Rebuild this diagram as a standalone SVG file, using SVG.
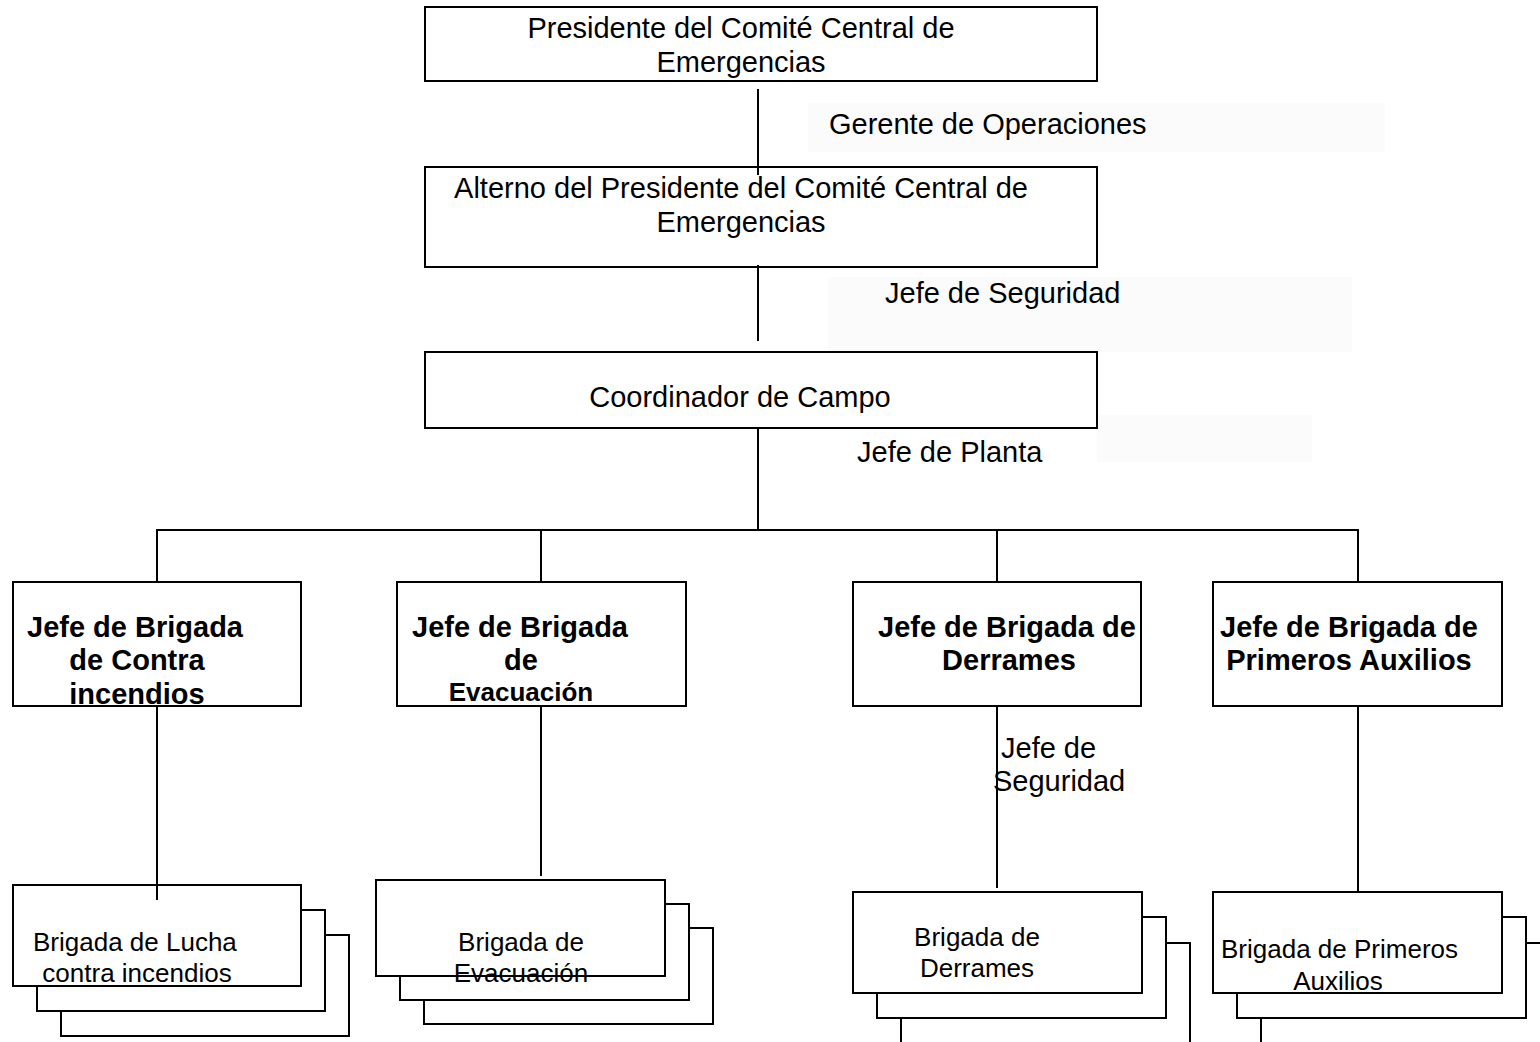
<svg xmlns="http://www.w3.org/2000/svg" width="1540" height="1042" viewBox="0 0 1540 1042">
<style>
.box{fill:#fff;stroke:#000;stroke-width:2}
.ln{stroke:#000;stroke-width:2;fill:none}
.t{font-family:"Liberation Sans",Arial,sans-serif;font-size:29px;fill:#000}
.s{font-family:"Liberation Sans",Arial,sans-serif;font-size:26px;fill:#000}
.b{font-family:"Liberation Sans",Arial,sans-serif;font-size:29px;font-weight:bold;fill:#000}
.bs{font-family:"Liberation Sans",Arial,sans-serif;font-size:26px;font-weight:bold;fill:#000}
.bg{fill:#fbfbfb;stroke:none}
</style>
<rect width="1540" height="1042" fill="#fff"/>
<g id="label-gerente">
<rect class="bg" x="808" y="103" width="577" height="49"/>
<text class="t" x="829" y="134">Gerente de Operaciones</text>
</g>
<g id="label-jefe-seguridad">
<rect class="bg" x="828" y="277" width="524" height="75"/>
<text class="t" x="885" y="303">Jefe de Seguridad</text>
</g>
<g id="label-jefe-planta">
<rect class="bg" x="1097" y="415" width="215" height="47"/>
<text class="t" x="857" y="462">Jefe de Planta</text>
</g>
<g id="presidente">
<rect class="box" x="425" y="7" width="672" height="74"/>
<text class="t" text-anchor="middle" x="741" y="38">Presidente del Comité Central de</text>
<text class="t" text-anchor="middle" x="741" y="72">Emergencias</text>
</g>
<g id="alterno">
<rect class="box" x="425" y="167" width="672" height="100"/>
<text class="t" text-anchor="middle" x="741" y="198">Alterno del Presidente del Comité Central de</text>
<text class="t" text-anchor="middle" x="741" y="232">Emergencias</text>
</g>
<g id="coordinador">
<rect class="box" x="425" y="352" width="672" height="76"/>
<text class="t" text-anchor="middle" x="740" y="407">Coordinador de Campo</text>
</g>
<g id="jefe-contra-incendios">
<rect class="box" x="13" y="582" width="288" height="124"/>
<text class="b" x="27" y="637">Jefe de Brigada</text>
<text class="b" text-anchor="middle" x="137" y="670">de Contra</text>
<text class="b" text-anchor="middle" x="137" y="704">incendios</text>
</g>
<g id="jefe-evacuacion">
<rect class="box" x="397" y="582" width="289" height="124"/>
<text class="b" x="412" y="637">Jefe de Brigada</text>
<text class="b" text-anchor="middle" x="521" y="670">de</text>
<text class="bs" text-anchor="middle" x="521" y="701">Evacuación</text>
</g>
<g id="jefe-derrames">
<rect class="box" x="853" y="582" width="288" height="124"/>
<text class="b" x="878" y="637">Jefe de Brigada de</text>
<text class="b" text-anchor="middle" x="1009" y="670">Derrames</text>
</g>
<g id="jefe-primeros-auxilios">
<rect class="box" x="1213" y="582" width="289" height="124"/>
<text class="b" x="1220" y="637">Jefe de Brigada de</text>
<text class="b" text-anchor="middle" x="1349" y="670">Primeros Auxilios</text>
</g>
<g id="label-jefe-seguridad-2">
<text class="t" x="1001" y="758">Jefe de</text>
<text class="t" x="993" y="791">Seguridad</text>
</g>
<g id="brigada-lucha">
<rect class="box" x="61" y="935" width="288" height="101"/>
<rect class="box" x="37" y="910" width="288" height="101"/>
<rect class="box" x="13" y="885" width="288" height="101"/>
<text class="s" x="33" y="951">Brigada de Lucha</text>
<text class="s" text-anchor="middle" x="137" y="982">contra incendios</text>
</g>
<g id="brigada-evacuacion">
<rect class="box" x="424" y="928" width="289" height="96"/>
<rect class="box" x="400" y="904" width="289" height="96"/>
<rect class="box" x="376" y="880" width="289" height="96"/>
<text class="s" text-anchor="middle" x="521" y="951">Brigada de</text>
<text class="s" text-anchor="middle" x="521" y="982">Evacuación</text>
</g>
<g id="brigada-derrames">
<rect class="box" x="901" y="943" width="289" height="110"/>
<rect class="box" x="877" y="917" width="289" height="101"/>
<rect class="box" x="853" y="892" width="289" height="101"/>
<text class="s" text-anchor="middle" x="977" y="946">Brigada de</text>
<text class="s" text-anchor="middle" x="977" y="977">Derrames</text>
</g>
<g id="brigada-primeros-auxilios">
<rect class="box" x="1261" y="943" width="300" height="110"/>
<rect class="box" x="1237" y="917" width="289" height="101"/>
<rect class="box" x="1213" y="892" width="289" height="101"/>
<text class="s" x="1221" y="958">Brigada de Primeros</text>
<text class="s" text-anchor="middle" x="1338" y="990">Auxilios</text>
</g>
<g id="connectors">
<path class="ln" d="M758 89V175"/>
<path class="ln" d="M758 265V341"/>
<path class="ln" d="M758 428V530"/>
<path class="ln" d="M157 582V530H1358V582"/>
<path class="ln" d="M541 530V582"/>
<path class="ln" d="M997 530V582"/>
<path class="ln" d="M157 706V900"/>
<path class="ln" d="M541 706V876"/>
<path class="ln" d="M997 706V888"/>
<path class="ln" d="M1358 706V892"/>
</g>
</svg>
